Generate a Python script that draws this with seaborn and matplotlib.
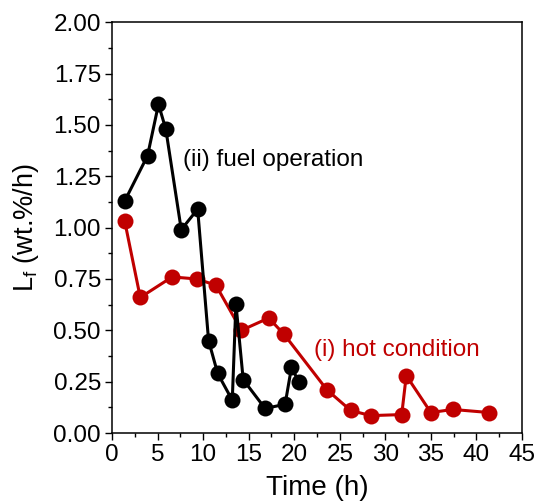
import pandas as pd
import matplotlib.pyplot as plt
import seaborn as sns
from matplotlib.ticker import MultipleLocator

# fuel operation (ii)
fuel_time = [1.4, 3.9, 5.1, 5.9, 7.6, 9.4, 10.6, 11.6, 13.2, 13.6, 14.4, 16.8, 19.0, 19.7, 20.5]
fuel_lf = [1.13, 1.35, 1.60, 1.48, 0.99, 1.09, 0.45, 0.29, 0.16, 0.63, 0.26, 0.12, 0.14, 0.32, 0.25]

# hot condition (i)
hot_time = [1.4, 3.1, 6.6, 9.3, 11.4, 14.2, 17.2, 18.9, 23.6, 26.2, 28.4, 31.8, 32.3, 35.0, 37.4, 41.4]
hot_lf = [1.03, 0.66, 0.76, 0.75, 0.72, 0.50, 0.56, 0.48, 0.21, 0.11, 0.085, 0.09, 0.28, 0.10, 0.115, 0.10]

sns.set_style("ticks")
plt.rcParams['font.family'] = ['Liberation Sans', 'DejaVu Sans']
plt.rcParams['mathtext.fontset'] = 'custom'
plt.rcParams['mathtext.rm'] = 'Liberation Sans'
plt.rcParams['mathtext.it'] = 'Liberation Sans'
plt.rcParams['text.color'] = 'black'
plt.rcParams['axes.labelcolor'] = 'black'
plt.rcParams['xtick.color'] = 'black'
plt.rcParams['ytick.color'] = 'black'

fig = plt.figure(figsize=(5.37, 5.03), dpi=100)
ax = fig.add_axes([0.2086, 0.139, 0.7634, 0.817])

red = "#C00000"
sns.lineplot(x=hot_time, y=hot_lf, sort=False, color=red, marker="o",
             markersize=11.5, markeredgewidth=0, linewidth=2.2, ax=ax)
sns.lineplot(x=fuel_time, y=fuel_lf, sort=False, color="black", marker="o",
             markersize=11.5, markeredgewidth=0, linewidth=2.2, ax=ax)

ax.text(7.8, 1.33, "(ii) fuel operation", fontsize=17.5, color="black", va="center")
ax.text(22.2, 0.405, "(i) hot condition", fontsize=17.5, color=red, va="center")

ax.set_xlim(0, 45)
ax.set_ylim(0, 2.0)
ax.xaxis.set_major_locator(MultipleLocator(5))
ax.xaxis.set_minor_locator(MultipleLocator(2.5))
ax.yaxis.set_major_locator(MultipleLocator(0.25))
ax.yaxis.set_minor_locator(MultipleLocator(0.125))
ax.yaxis.set_major_formatter(plt.FormatStrFormatter("%.2f"))
ax.tick_params(which="major", direction="out", length=5, width=1, labelsize=17.5, pad=3)
ax.tick_params(which="minor", direction="out", length=3, width=1)
for s in ax.spines.values():
    s.set_linewidth(1.1)
    s.set_color("black")

ax.set_xlabel("Time (h)", fontsize=20, labelpad=6)
ax.set_ylabel(r"L$_\mathregular{f}$ (wt.%/h)", fontsize=19.5, labelpad=9)

fig.savefig("out.png", dpi=100)
